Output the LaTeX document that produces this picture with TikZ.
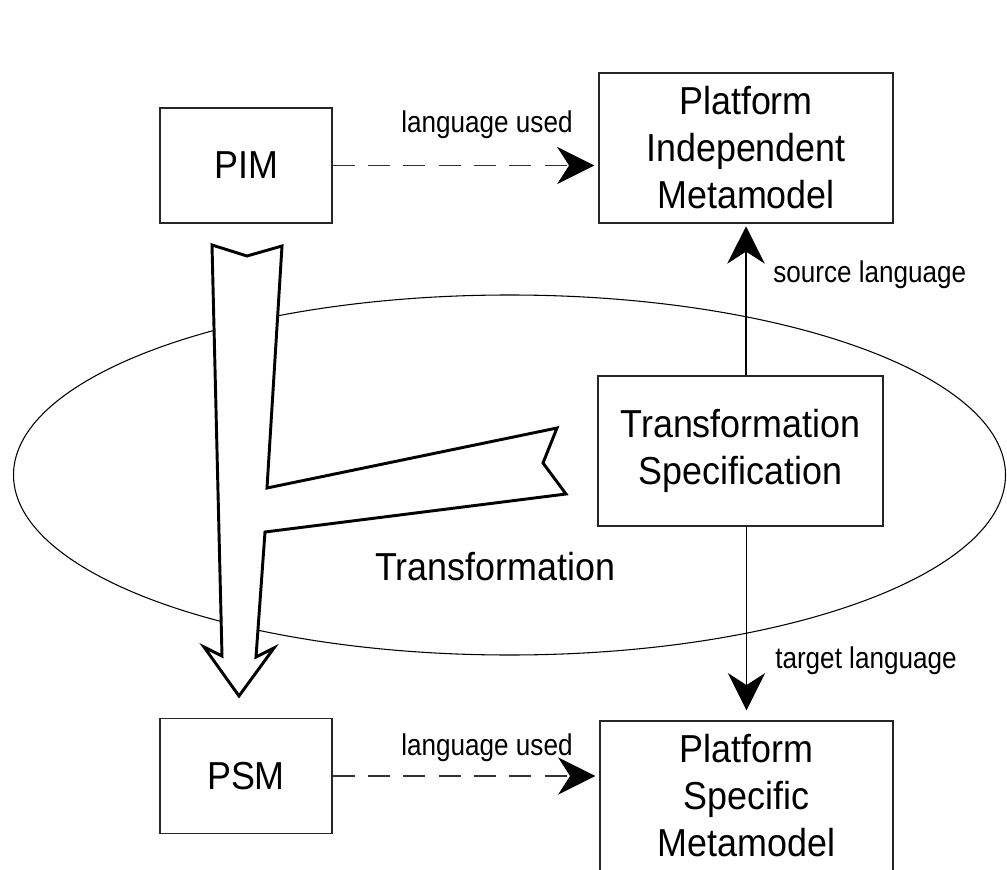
\documentclass[tikz,border=0pt]{standalone}
\usepackage{fontspec}
\setmainfont{Liberation Sans}
\newfontfamily\bigf{Liberation Sans}[FakeStretch=0.92]
\newfontfamily\smallf{Liberation Sans}[FakeStretch=0.87]
\usetikzlibrary{arrows.meta,shapes.geometric}
\tikzset{
  box/.style={draw=black!85, line width=0.9pt, fill=white, inner sep=0pt, align=center,
    font=\bigf\fontsize{29.25pt}{35.25pt}\selectfont},
  bigtext/.style={inner sep=0pt, font=\bigf\fontsize{29.25pt}{35.25pt}\selectfont},
  smalltext/.style={inner sep=0pt, font=\smallf\fontsize{22.5pt}{27pt}\selectfont},
  tipstyle/.style={-{Stealth[length=28pt, width=28pt, inset=9pt, color=black]}},
  usedarrow/.style={tipstyle, draw=black!80, line width=0.8pt, dash pattern=on 16.5pt off 10pt},
  langarrow/.style={tipstyle, line width=1.4pt},
  blockarrow/.style={draw=black, fill=white, line width=2.2pt, line join=miter}
}
\begin{document}
\begin{tikzpicture}[x=0.75pt, y=-0.75pt]
\useasboundingbox (0,0) rectangle (1007,870);
\clip (0,0) rectangle (1007,870);

% Transformation ellipse
\node[draw, ellipse, line width=0.8pt, inner sep=0pt,
      minimum width=744pt, minimum height=270pt] (trans) at (509.5,475) {};
\node[bigtext, anchor=base] (translbl) at (495,580) {Transformation};

% Boxes
\node[box, minimum width=129pt, minimum height=86.25pt] (pim) at (246,165.5) {PIM};
\node[box, minimum width=129pt, minimum height=86.25pt] (psm) at (246,776) {PSM};
\node[box, minimum width=220.5pt, minimum height=112.5pt] (pimm) at (746,148)
  {Platform\\Independent\\Metamodel};
\node[box, minimum width=213.75pt, minimum height=112.5pt] (ts) at (740.5,451)
  {Transformation\\Specification};
\node[box, minimum width=219.75pt, minimum height=112.5pt] (psmm) at (746.5,796)
  {Platform\\Specific\\Metamodel};

% Big open arrow (PIM -> PSM with branch from the Transformation Specification)
\path[blockarrow] (212,245) -- (247,256) -- (282,246) -- (267,488) -- (557,428)
  -- (543,463) -- (566,494) -- (265,532) -- (256,657) -- (274,648) -- (239,696)
  -- (204,647) -- (222,656) -- cycle;

% language used
\draw[usedarrow, shorten >=3pt] (pim.east) -- (pim.east -| pimm.west);
\node[smalltext, anchor=base] (lu1) at (487,133) {language used};
\draw[usedarrow, shorten >=3pt] (psm.east) -- (psm.east -| psmm.west);
\node[smalltext, anchor=base] (lu2) at (487,755) {language used};

% source / target language
\draw[langarrow, shorten >=2pt] (ts.north -| pimm.south) -- (pimm.south);
\node[smalltext, anchor=base west] (src) at (773,282) {source language};
\draw[langarrow, shorten >=7.5pt] (ts.south -| psmm.north) -- (psmm.north);
\node[smalltext, anchor=base west] (tgt) at (775,668) {target language};
\end{tikzpicture}
\end{document}
